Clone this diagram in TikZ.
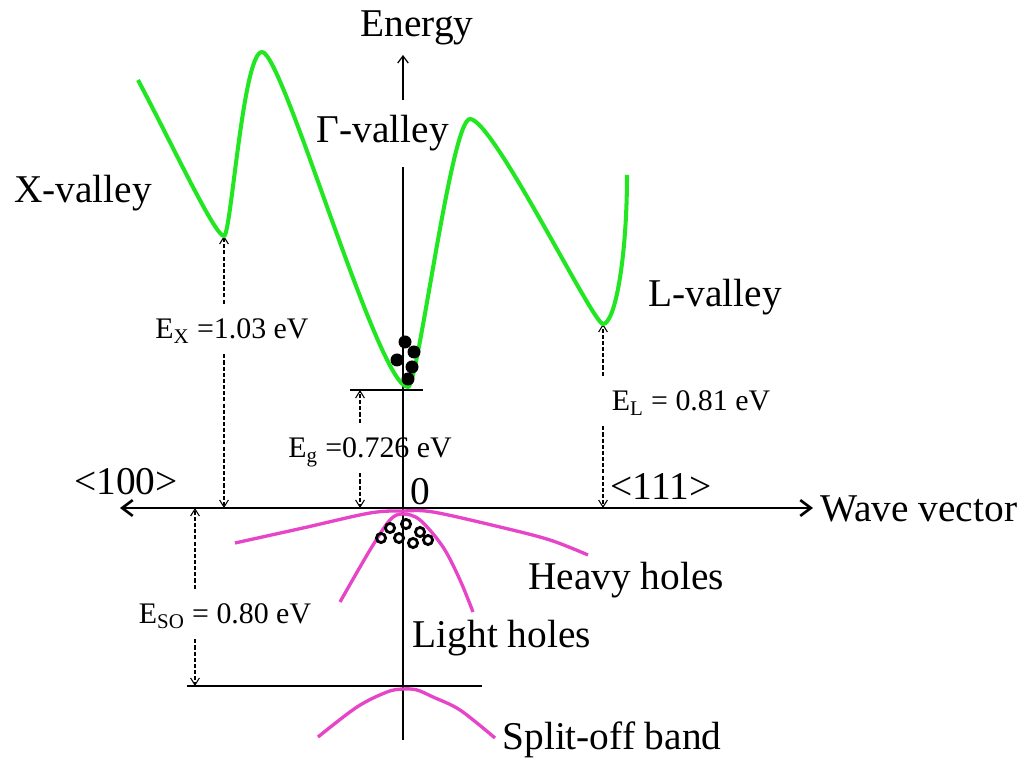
\documentclass[tikz,border=0pt]{standalone}
\usepackage{fontspec}
\setmainfont{Liberation Serif}
\usetikzlibrary{arrows.meta,positioning}
\definecolor{Valley}{HTML}{22E622}
\definecolor{Hole}{HTML}{E645C8}
\tikzset{
 big/.style={font=\fontsize{22.4}{26}\selectfont, inner sep=0pt},
 gaplabel/.style={font=\fontsize{17}{20}\selectfont, inner sep=1pt, text height=0.45cm, text depth=0.05cm, minimum height=1cm},
 axis/.style={{Straight Barb[length=6pt,width=9pt]}-{Straight Barb[length=6pt,width=9pt]}, line width=1.5pt},
 eaxis/.style={line width=0.7pt},
 dimarrow/.style={-{Straight Barb[length=4pt,width=5pt]}, dash pattern=on 2.3pt off 1.2pt, line width=0.6pt},
 level/.style={line width=0.8pt},
 cband/.style={draw=Valley, line width=2.3pt},
 vband/.style={draw=Hole, line width=1.9pt},
 hole/.style={draw=black, line width=1.6pt}
}
\begin{document}
\begin{tikzpicture}[x=0.02cm,y=0.02cm]
\useasboundingbox (-403,-252) rectangle (627,508);
\coordinate (O) at (0,0);
\coordinate (kl) at (-283,0);
\coordinate (kr) at (410,0);
\coordinate (etop) at (0,453);
\coordinate (ebot) at (0,-232);
\coordinate (xmin) at (-179,272);
\coordinate (gmin) at (-43,118);
\coordinate (lmin) at (200,184);
\coordinate (sotop) at (-208,0);
\coordinate (sobot) at (-208,-178);
\coordinate (gl) at (-53,118);
\coordinate (gr) at (20,118);
\coordinate (sl) at (-216,-178);
\coordinate (sr) at (79,-178);
\node[big, anchor=base] (energy) at (14,471) {Energy};
\node[big, anchor=base, inner ysep=0.3cm] (gam) at (-20,365) {Γ-valley};
\node[big, anchor=base] (xval) at (-320,305) {X-valley};
\node[big, anchor=base] (lval) at (312,201) {L-valley};
\node[big, anchor=base] (dir100) at (-277,13) {<100>};
\node[big, anchor=base] (dir111) at (258,8) {<111>};
\node[big, anchor=base] (zero) at (17,3) {0};
\node[big, anchor=base west] (wave) at (417,-14) {Wave vector};
\node[big, anchor=base] (heavy) at (223,-81) {Heavy holes};
\node[big, anchor=base] (light) at (99,-139) {Light holes};
\node[big, anchor=base] (split) at (209,-241) {Split-off band};
\node[gaplabel] (ex) at (-171,179) {E\textsubscript{X} =1.03 eV};
\node[gaplabel] (eg) at (-33,60) {E\textsubscript{g} =0.726 eV};
\node[gaplabel] (el) at (288,107) {E\textsubscript{L} = 0.81 eV};
\node[gaplabel] (eso) at (-178,-106) {E\textsubscript{SO} = 0.80 eV};
\draw[axis] (kl) -- (kr);
\draw[eaxis] (ebot) -- (gam.south -| O);
\draw[eaxis,-{Straight Barb[length=4pt,width=6pt]}] (gam.north -| O) -- (etop);
\draw[level] (gl) -- (gr);
\draw[level] (sl) -- (sr);
\draw[dimarrow] (ex.north -| xmin) -- (xmin);
\draw[dimarrow] (ex.south -| xmin) -- (xmin |- O);
\draw[dimarrow] (eg.north -| gmin) -- (gmin);
\draw[dimarrow] (eg.south -| gmin) -- (gmin |- O);
\draw[dimarrow] (el.north -| lmin) -- (lmin);
\draw[dimarrow] (el.south -| lmin) -- (lmin |- O);
\draw[dimarrow] (eso.north -| sotop) -- (sotop);
\draw[dimarrow] (eso.south -| sotop) -- (sobot);
\draw[cband] (-265,428) .. controls (-228,358) and (-188,272) .. (xmin)
 .. controls (-172,272) and (-160,456) .. (-141,456)
 .. controls (-120,456) and (-25,121) .. (5,121)
 .. controls (15,121) and (48,389) .. (67,389)
 .. controls (90,389) and (190,184) .. (lmin)
 .. controls (212,184) and (224,250) .. (224,333);
\draw[vband] plot[smooth, tension=0.55] coordinates {(-168,-35) (-100,-20) (-33,-5) (0,-3) (30,-4) (97,-19) (147,-32) (185,-47)};
\draw[vband] plot[smooth, tension=0.55] coordinates {(-63,-94) (-33,-42) (-13,-12) (0,-6) (17,-12) (40,-39) (57,-72) (70,-104)};
\draw[vband] plot[smooth, tension=0.55] coordinates {(-85,-229) (-46,-199) (-16,-184) (0,-181) (14,-182) (30,-189) (57,-202) (92,-230)};
\foreach \x/\y in {2/166, 11/156, -6/148, 9/141, 5/129} \fill (\x,\y) circle (6.5);
\foreach \x/\y in {-13/-20, 3/-16, 17/-24, -22/-30, -4/-30, 10/-35, 25/-32} \draw[hole] (\x,\y) circle (4.6);
\end{tikzpicture}
\end{document}
